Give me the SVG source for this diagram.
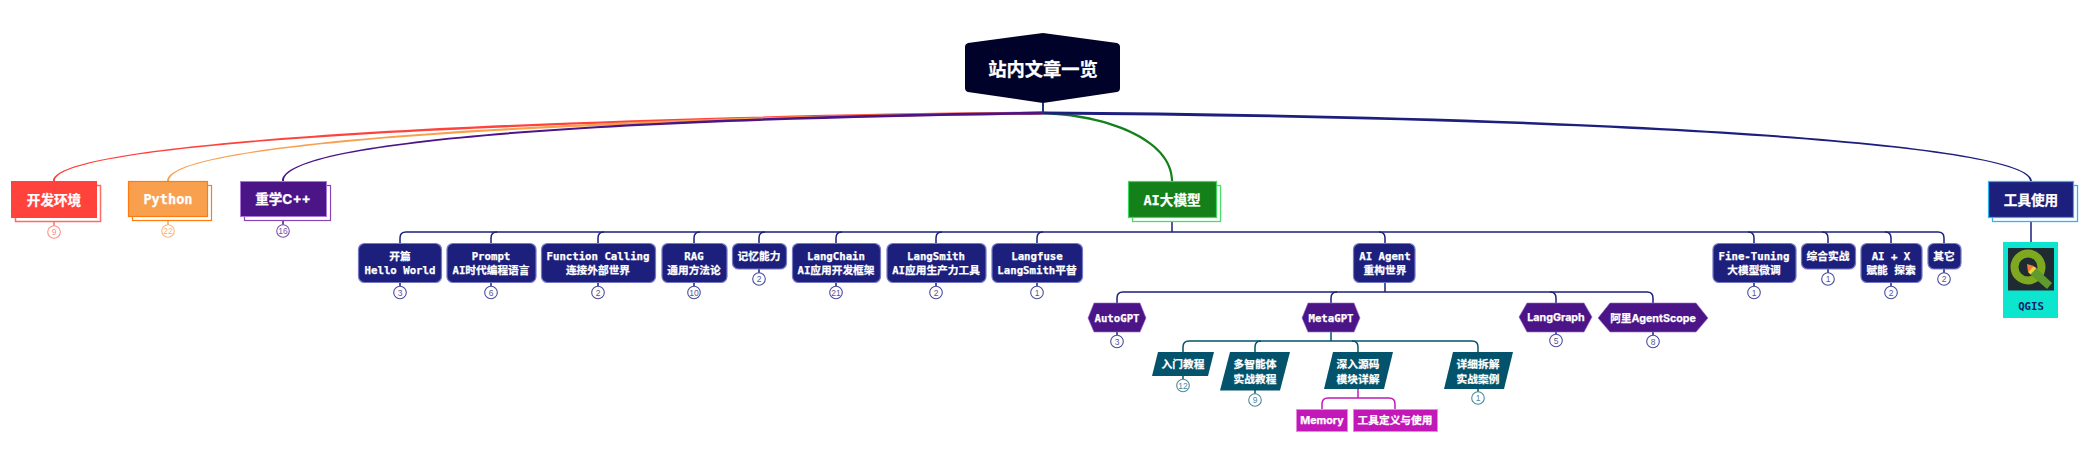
<svg xmlns="http://www.w3.org/2000/svg" width="2092" height="451" viewBox="0 0 2092 451">
<style>
text{fill:#fff;stroke:#fff;stroke-width:.25px;font-weight:700;text-anchor:middle;font-family:"DejaVu Sans Mono","Noto Sans CJK SC",monospace}
.s{font-family:"Inter","Noto Sans CJK SC",sans-serif}
.c{font-family:"Noto Sans CJK SC",sans-serif}
.n{font-size:10.7px}
.l1{font-size:13.6px}
.b circle{fill:#fff;stroke-width:1.1}
.b text{font-size:8.5px;font-weight:400;stroke:none;font-family:"Liberation Sans",sans-serif}
.con path{fill:none;stroke-width:1.5}
.con .t{stroke:none}
.navy{fill:#1d1f7d;stroke:#7678c4;stroke-width:1.2}
.hex{fill:#4c1587;stroke:#9a6cc9;stroke-width:.6}
.par{fill:#02536b}
.mag{fill:#c218b8;stroke:#e48add;stroke-width:1}
.nb{stroke:#4a4c9e}
.tb{stroke:#4d8a9c}
</style>
<g id="connectors" class="con">
<path class="t" style="fill:#ff433c" d="M1043 111.600C548 116.600 53 139.300 53 181H55C55 140.700 548 119.400 1043 114.400Z"/>
<path class="t" style="fill:#f9a04e" d="M1043 111.600C600 116.600 167 139.300 167 181H169C169 140.700 600 119.400 1043 114.400Z"/>
<path class="t" style="fill:#4c1587" d="M1043 111.600C650 116.600 282 137.300 282 181H284C284 138.700 650 119.400 1043 114.400Z"/>
<path class="t" style="fill:#14801a" d="M1043 111.800C1105 113.800 1173.200 138 1173.200 181H1171C1171 140 1105 116.200 1043 114.200Z"/>
<path class="t" style="fill:#1d1f7d" d="M1043 111.600C1540 114.600 2032 139 2032 181H2030C2030 141 1540 117.400 1043 114.400Z"/>
<path stroke="#1d3a7d" style="stroke-width:2" d="M1043 103V113"/>
<g stroke="#1d1f7d">
<path d="M1172 218V232"/>
<path d="M1172 232H406Q400 232 400 238V243"/>
<path d="M497 232Q491 232 491 238V243"/>
<path d="M604 232Q598 232 598 238V243"/>
<path d="M700 232Q694 232 694 238V243"/>
<path d="M765 232Q759 232 759 238V243"/>
<path d="M842 232Q836 232 836 238V243"/>
<path d="M942 232Q936 232 936 238V243"/>
<path d="M1043 232Q1037 232 1037 238V243"/>
<path d="M1172 232H1938Q1944 232 1944 238V243"/>
<path d="M1379 232Q1385 232 1385 238V243"/>
<path d="M1748 232Q1754 232 1754 238V243"/>
<path d="M1822 232Q1828 232 1828 238V243"/>
<path d="M1885 232Q1891 232 1891 238V243"/>
<path d="M2031 218V243"/>
<path d="M1385 283V292"/>
<path d="M1385 292H1123Q1117 292 1117 298V303"/>
<path d="M1337 292Q1331 292 1331 298V303"/>
<path d="M1385 292H1647Q1653 292 1653 298V303"/>
<path d="M1550 292Q1556 292 1556 298V303"/>
</g>
<g stroke="#02536b">
<path d="M1331 332V341"/>
<path d="M1331 341H1189Q1183 341 1183 347V352"/>
<path d="M1261 341Q1255 341 1255 347V352"/>
<path d="M1331 341H1472Q1478 341 1478 347V352"/>
<path d="M1352 341Q1358 341 1358 347V352"/>
</g>
<g stroke="#c218b8">
<path d="M1358 389V398"/>
<path d="M1358 398H1328Q1322 398 1322 404V409"/>
<path d="M1358 398H1389Q1395 398 1395 404V409"/>
</g>
<g stroke-width="1">
<path stroke="#ff6b64" d="M54 222V226"/>
<path stroke="#f9a04e" d="M168 221V225"/>
<path stroke="#4c1587" d="M283 221V225"/>
<path stroke="#1d1f7d" d="M400 283V286M491 283V286M598 283V286M694 283V286M759 269V273M836 283V286M936 283V286M1037 283V286M1754 283V286M1828 269V273M1891 283V286M1944 269V273M1117 332V335M1556 332V334M1653 332V335"/>
<path stroke="#02536b" d="M1183 376V379M1255 390V394M1478 389V392"/>
</g>
</g>
<g id="root"><path fill="#000229" d="M1043 33L1117 43Q1120 44 1120 47V88Q1120 91 1117 92L1043 103L968 92Q965 91 965 88V47Q965 44 968 43Z"/><text class="c" x="1043" y="76" font-size="18.300">站内文章一览</text></g>
<g id="dev"><rect x="15.500" y="185.500" width="85" height="36" fill="none" stroke="#ff6b64" stroke-width="1.500"/><rect x="11" y="181" width="86" height="37" fill="#ff433c"/><text class="l1" x="54" y="205">开发环境</text><g class="b"><circle cx="54" cy="232" r="6.300" stroke="#ff8f8a"/><text x="54" y="235" style="fill:#ff8f8a">9</text></g></g>
<g id="python"><rect x="132.500" y="185.500" width="79" height="35" fill="#fff" stroke="#ff7a0f" stroke-width="1.200"/><rect x="128.500" y="181.500" width="79" height="35" fill="#f9a04e" stroke="#ff7a0f" stroke-width="1.200"/><text class="l1" x="168" y="204">Python</text><g class="b"><circle cx="168" cy="231" r="6.300" stroke="#fbb57a"/><text x="168" y="234" style="fill:#fbb57a">22</text></g></g>
<g id="cpp"><rect x="244.500" y="185.500" width="86" height="35" fill="#fff" stroke="#8a46b8" stroke-width="1.200"/><rect x="240.500" y="181.500" width="86" height="35" fill="#4c1587" stroke="#a878d8" stroke-width="1"/><text class="l1 s" x="283" y="204">重学C++</text><g class="b"><circle cx="283" cy="231" r="6.300" stroke="#7d55a8"/><text x="283" y="234" style="fill:#7d55a8">16</text></g></g>
<g id="ai"><rect x="1132.500" y="185.500" width="88" height="36" fill="#fff" stroke="#4bdc6b" stroke-width="1.300"/><rect x="1128.500" y="181.500" width="88" height="36" fill="#14801a" stroke="#3fd85f" stroke-width="1.200"/><text class="l1" x="1172" y="205">AI大模型</text></g>
<g id="tools"><rect x="1992.500" y="185.500" width="85" height="36" fill="#fff" stroke="#2cb5f5" stroke-width="1.300"/><rect x="1988.500" y="181.500" width="85" height="36" fill="#1d1f7d" stroke="#2cb5f5" stroke-width="1.200"/><text class="l1" x="2031" y="205">工具使用</text></g>
<g id="qgis"><rect x="2003" y="242" width="55" height="76" fill="#0de6cf"/><rect x="2008" y="248" width="46" height="42.500" fill="#1f2a33"/><circle cx="2028" cy="267" r="13.500" fill="none" stroke="#7fa821" stroke-width="8"/><path fill="#5f9a2f" d="M2036 268L2052 283L2047 289L2030 274Z"/><path fill="#f4d13d" d="M2033 266L2036.500 268L2030.500 274.500L2028 272Z"/><path fill="#f08030" d="M2027 264L2034 266L2028 272Z"/><text x="2031" y="310" class="n" style="fill:#12206b;stroke:none">QGIS</text></g>
<g id="n1"><rect class="navy" x="358.500" y="243.500" width="83" height="39" rx="6"/><text class="n" x="400" y="260">开篇</text><text class="n" x="400" y="274">Hello World</text><g class="b"><circle class="nb" cx="400" cy="292.500" r="6.300"/><text x="400" y="295.500" style="fill:#55579a">3</text></g></g>
<g id="n2"><rect class="navy" x="447" y="243.500" width="89" height="39" rx="6"/><text class="n" x="491" y="260">Prompt</text><text class="n" x="491" y="274">AI时代编程语言</text><g class="b"><circle class="nb" cx="491" cy="292.500" r="6.300"/><text x="491" y="295.500" style="fill:#55579a">6</text></g></g>
<g id="n3"><rect class="navy" x="541.500" y="243.500" width="114" height="39" rx="6"/><text class="n" x="598" y="260">Function Calling</text><text class="n" x="598" y="274">连接外部世界</text><g class="b"><circle class="nb" cx="598" cy="292.500" r="6.300"/><text x="598" y="295.500" style="fill:#55579a">2</text></g></g>
<g id="n4"><rect class="navy" x="662" y="243.500" width="65" height="39" rx="6"/><text class="n" x="694" y="260">RAG</text><text class="n" x="694" y="274">通用方法论</text><g class="b"><circle class="nb" cx="694" cy="292.500" r="6.300"/><text x="694" y="295.500" style="fill:#55579a">10</text></g></g>
<g id="n5"><rect class="navy" x="732.500" y="243.500" width="54" height="25.500" rx="6"/><text class="n" x="759" y="260">记忆能力</text><g class="b"><circle class="nb" cx="759" cy="279" r="6.300"/><text x="759" y="282" style="fill:#55579a">2</text></g></g>
<g id="n6"><rect class="navy" x="792.500" y="243.500" width="88" height="39" rx="6"/><text class="n" x="836" y="260">LangChain</text><text class="n" x="836" y="274">AI应用开发框架</text><g class="b"><circle class="nb" cx="836" cy="292.500" r="6.300"/><text x="836" y="295.500" style="fill:#55579a">21</text></g></g>
<g id="n7"><rect class="navy" x="887" y="243.500" width="99" height="39" rx="6"/><text class="n" x="936" y="260">LangSmith</text><text class="n" x="936" y="274">AI应用生产力工具</text><g class="b"><circle class="nb" cx="936" cy="292.500" r="6.300"/><text x="936" y="295.500" style="fill:#55579a">2</text></g></g>
<g id="n8"><rect class="navy" x="992" y="243.500" width="90.500" height="39" rx="6"/><text class="n" x="1037" y="260">Langfuse</text><text class="n" x="1037" y="274">LangSmith平替</text><g class="b"><circle class="nb" cx="1037" cy="292.500" r="6.300"/><text x="1037" y="295.500" style="fill:#55579a">1</text></g></g>
<g id="n9"><rect class="navy" x="1353.500" y="243.500" width="61.500" height="39" rx="6"/><text class="n" x="1385" y="260">AI Agent</text><text class="n" x="1385" y="274">重构世界</text></g>
<g id="n10"><rect class="navy" x="1713" y="243.500" width="83" height="39" rx="6"/><text class="n" x="1754" y="260">Fine-Tuning</text><text class="n" x="1754" y="274">大模型微调</text><g class="b"><circle class="nb" cx="1754" cy="292.500" r="6.300"/><text x="1754" y="295.500" style="fill:#55579a">1</text></g></g>
<g id="n11"><rect class="navy" x="1801.500" y="243.500" width="54" height="25.500" rx="6"/><text class="n" x="1828" y="260">综合实战</text><g class="b"><circle class="nb" cx="1828" cy="279" r="6.300"/><text x="1828" y="282" style="fill:#55579a">1</text></g></g>
<g id="n12"><rect class="navy" x="1861" y="243.500" width="61" height="39" rx="6"/><text class="n" x="1891" y="260">AI + X</text><text class="n" x="1891" y="274">赋能 探索</text><g class="b"><circle class="nb" cx="1891" cy="292.500" r="6.300"/><text x="1891" y="295.500" style="fill:#55579a">2</text></g></g>
<g id="n13"><rect class="navy" x="1928" y="243.500" width="33" height="25.500" rx="6"/><text class="n" x="1944" y="260">其它</text><g class="b"><circle class="nb" cx="1944" cy="279" r="6.300"/><text x="1944" y="282" style="fill:#55579a">2</text></g></g>
<g id="h1"><path class="hex" d="M1094 303H1140L1146 318L1140 332H1094L1088 318Z"/><text class="n" x="1117" y="322">AutoGPT</text><g class="b"><circle class="nb" cx="1117" cy="341.500" r="6.300"/><text x="1117" y="344.500" style="fill:#55579a">3</text></g></g>
<g id="h2"><path class="hex" d="M1308 303H1354L1360 318L1354 332H1308L1302 318Z"/><text class="n" x="1331" y="322">MetaGPT</text></g>
<g id="h3"><path class="hex" d="M1527 303H1584L1592 317L1584 332H1527L1519 317Z"/><text class="n s" x="1556" y="321">LangGraph</text><g class="b"><circle class="nb" cx="1556" cy="340.500" r="6.300"/><text x="1556" y="343.500" style="fill:#55579a">5</text></g></g>
<g id="h4"><path class="hex" d="M1610 303H1696L1708 318L1696 332H1610L1598 318Z"/><text class="n s" x="1653" y="322">阿里AgentScope</text><g class="b"><circle class="nb" cx="1653" cy="341.500" r="6.300"/><text x="1653" y="344.500" style="fill:#55579a">8</text></g></g>
<g id="p1"><path class="par" d="M1158 352H1214L1208 376H1152Z"/><text class="n c" x="1183" y="368">入门教程</text><g class="b"><circle class="tb" cx="1183" cy="385.500" r="6.300"/><text x="1183" y="388.500" style="fill:#4d8a9c">12</text></g></g>
<g id="p2"><path class="par" d="M1230 352H1290L1280 390.500H1220Z"/><text class="n c" x="1255" y="368">多智能体</text><text class="n c" x="1255" y="383">实战教程</text><g class="b"><circle class="tb" cx="1255" cy="400" r="6.300"/><text x="1255" y="403" style="fill:#4d8a9c">9</text></g></g>
<g id="p3"><path class="par" d="M1333 352H1393L1384 389H1324Z"/><text class="n c" x="1358" y="368">深入源码</text><text class="n c" x="1358" y="383">模块详解</text></g>
<g id="p4"><path class="par" d="M1453 352H1513L1504 389H1444Z"/><text class="n c" x="1478" y="368">详细拆解</text><text class="n c" x="1478" y="383">实战案例</text><g class="b"><circle class="tb" cx="1478" cy="398" r="6.300"/><text x="1478" y="401" style="fill:#4d8a9c">1</text></g></g>
<g id="m1"><rect class="mag" x="1296.500" y="409.500" width="51" height="22"/><text class="n s" x="1322" y="424">Memory</text></g>
<g id="m2"><rect class="mag" x="1353.500" y="409.500" width="84" height="22"/><text class="n c" x="1395" y="424">工具定义与使用</text></g>
</svg>
